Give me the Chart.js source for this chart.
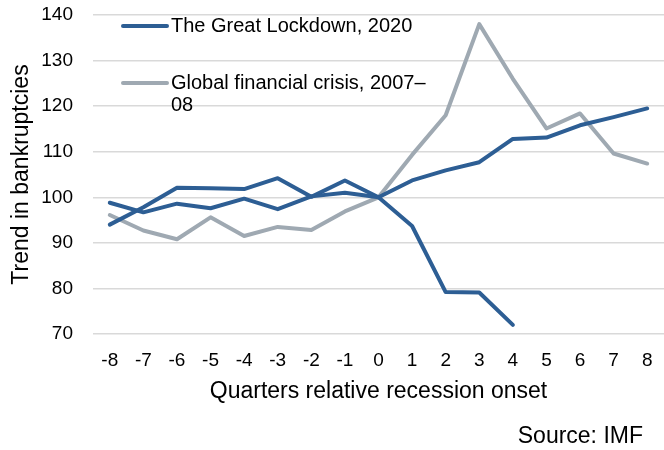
<!DOCTYPE html>
<html>
<head>
<meta charset="utf-8">
<script src="https://cdn.jsdelivr.net/npm/chart.js@4.4.0/dist/chart.umd.min.js"></script>
<style>
  body { margin: 0; background: #fff; }
  #wrap { width: 664px; height: 450px; }
</style>
</head>
<body>
<div id="wrap"><canvas id="chart" width="664" height="450"></canvas></div>
<script>
const quarters = ["-8", "-7", "-6", "-5", "-4", "-3", "-2", "-1", "0", "1", "2", "3", "4", "5", "6", "7", "8"];
const lockdown = [98.8, 96.7, 98.6, 97.6, 99.7, 97.4, 100.2, 101, 100, 93.7, 79.2, 79.1, 72];
const lockdownOther = [94, 97.8, 102.1, 102, 101.8, 104.2, 100.1, 103.7, 100, 103.7, 105.9, 107.7, 112.8, 113.1, 115.8, 117.6, 119.5];
const gfc = [96.1, 92.7, 90.8, 95.6, 91.5, 93.5, 92.8, 96.9, 100, 109.3, 118, 138, 126, 115.1, 118.4, 109.6, 107.4];
const yTicks = [70, 80, 90, 100, 110, 120, 130, 140];

const blue = "#2d5e94";
const grey = "#9fa9b2";
const font = "'Liberation Sans', Arial, sans-serif";

// legend sits inside the plot, top left, with wrapped second label
const legendInside = {
  id: "legendInside",
  afterDraw(chart) {
    const ctx = chart.ctx;
    const items = [
      { color: blue, lines: ["The Great Lockdown, 2020"], y: 26 },
      { color: grey, lines: ["Global financial crisis, 2007\u2013", "08"], y: 83 },
    ];
    ctx.save();
    ctx.font = "20px " + font;
    ctx.textBaseline = "middle";
    ctx.fillStyle = "#000";
    ctx.lineCap = "round";
    items.forEach((it) => {
      ctx.strokeStyle = it.color;
      ctx.lineWidth = 4;
      ctx.beginPath();
      ctx.moveTo(123, it.y);
      ctx.lineTo(167, it.y);
      ctx.stroke();
      it.lines.forEach((t, i) => {
        ctx.fillText(t, 171, it.y + i * 22);
      });
    });
    ctx.font = "23px " + font;
    ctx.textAlign = "right";
    ctx.fillText("Source: IMF", 643, 437);
    ctx.restore();
  },
};

new Chart(document.getElementById("chart"), {
  type: "line",
  data: {
    labels: quarters,
    datasets: [
      { label: "The Great Lockdown, 2020", data: lockdown, borderColor: blue },
      { label: "", data: lockdownOther, borderColor: blue },
      { label: "Global financial crisis, 2007\u201308", data: gfc, borderColor: grey },
    ],
  },
  options: {
    responsive: false,
    animation: false,
    layout: { padding: { top: 15, left: 4, right: -4, bottom: 41 } },
    elements: {
      line: { borderWidth: 4, tension: 0, borderCapStyle: "round", borderJoinStyle: "round" },
      point: { radius: 0 },
    },
    plugins: {
      legend: { display: false },
      tooltip: { enabled: false },
    },
    scales: {
      x: {
        offset: true,
        grid: { display: false, drawTicks: false },
        border: { display: false },
        ticks: { color: "#000", font: { family: font, size: 19 }, padding: 15, maxRotation: 0 },
        title: { display: true, text: "Quarters relative recession onset", color: "#000", font: { family: font, size: 23 } },
        afterFit(scale) {
          scale.height = 75;
          scale.paddingLeft = 0;
          scale.paddingRight = 0;
        },
      },
      y: {
        min: 70,
        max: 140,
        afterBuildTicks(scale) { scale.ticks = yTicks.map((v) => ({ value: v })); },
        grid: { color: "#d9d9d9", lineWidth: 1.5, drawTicks: false },
        border: { display: false },
        ticks: { color: "#000", font: { family: font, size: 19 }, padding: 20 },
        title: { display: true, text: "Trend in bankruptcies", color: "#000", font: { family: font, size: 23 } },
        afterFit(scale) {
          scale.width = 89;
          scale.paddingTop = 0;
          scale.paddingBottom = 0;
        },
      },
    },
  },
  plugins: [legendInside],
});
</script>
</body>
</html>
